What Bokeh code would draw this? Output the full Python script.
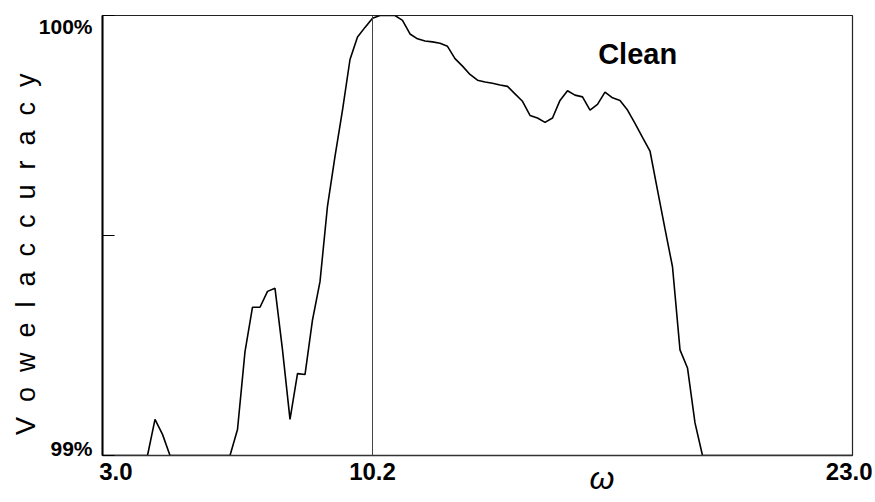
from bokeh.plotting import figure
from bokeh.models import Range1d, FixedTicker, Span, Label
from bokeh.embed import file_html
from bokeh.resources import INLINE

# ---- data ----
omega = [3.0, 4.2, 4.4, 4.6, 4.8, 6.4, 6.6, 6.8, 7.0, 7.2, 7.4, 7.6, 7.8, 8.0,
         8.2, 8.4, 8.6, 8.8, 9.0, 9.2, 9.4, 9.6, 9.8, 10.0, 10.2, 10.4, 10.6,
         10.8, 11.0, 11.2, 11.4, 11.6, 11.8, 12.0, 12.2, 12.4, 12.6, 12.8, 13.0,
         13.2, 13.4, 13.6, 13.8, 14.0, 14.2, 14.4, 14.6, 14.8, 15.0, 15.2, 15.4,
         15.6, 15.8, 16.0, 16.2, 16.4, 16.6, 16.8, 17.0, 17.2, 17.4, 17.6, 17.8,
         18.0, 18.2, 18.4, 18.6, 18.8, 19.0, 23.0]
accuracy = [99.0, 99.0, 99.082, 99.048, 99.0, 99.0, 99.059, 99.236, 99.337,
            99.337, 99.373, 99.380, 99.240, 99.082, 99.186, 99.184, 99.308,
            99.395, 99.567, 99.680, 99.785, 99.900, 99.951, 99.973, 99.994,
            100.0, 100.0, 100.0, 99.989, 99.958, 99.947, 99.942, 99.940, 99.937,
            99.930, 99.902, 99.885, 99.866, 99.853, 99.849, 99.846, 99.842,
            99.839, 99.822, 99.805, 99.773, 99.767, 99.757, 99.767, 99.807,
            99.829, 99.819, 99.815, 99.785, 99.798, 99.826, 99.813, 99.807,
            99.785, 99.755, 99.723, 99.692, 99.603, 99.515, 99.429, 99.240,
            99.199, 99.074, 99.0, 99.0]

x_ticks = [3.0, 10.2, 23.0]
x_tick_labels = ["3.0", "10.2", "23.0"]
y_ticks = [99.0, 99.5, 100.0]
y_tick_labels = ["99%", "", "100%"]
marker_omega = 10.2
condition = "Clean"
x_title = "ω"
y_title = "Vowel accuracy"

NB = "\u00a0"

p = figure(width=872, height=498, output_backend="svg", toolbar_location=None,
           x_range=Range1d(3.0, 23.0), y_range=Range1d(99.0, 100.0),
           min_border_left=102, min_border_top=15, min_border_right=20,
           min_border_bottom=42)
p.background_fill_color = "white"
p.border_fill_color = "white"
p.outline_line_color = "#222222"
p.outline_line_width = 1.2
p.xgrid.visible = False
p.ygrid.visible = False

# x axis
p.xaxis.ticker = FixedTicker(ticks=x_ticks)
ov = {}
for t, lab in zip(x_ticks, x_tick_labels):
    if t == x_ticks[0]:
        lab = NB * 4 + lab
    ov[t] = lab
p.xaxis.major_label_overrides = ov
p.xaxis.major_tick_in = 0
p.xaxis.major_tick_out = 0
p.xaxis.minor_tick_in = 0
p.xaxis.minor_tick_out = 0
p.xaxis.axis_line_color = "#333333"
p.xaxis.axis_line_width = 1.5
p.xaxis.major_label_text_font = "Liberation Sans"
p.xaxis.major_label_text_font_style = "bold"
p.xaxis.major_label_text_font_size = "24px"
p.xaxis.major_label_text_color = "black"
p.xaxis.major_label_standoff = 2
p.xaxis.axis_label = NB * 28 + x_title
p.xaxis.axis_label_text_font = "Liberation Sans"
p.xaxis.axis_label_text_font_style = "italic"
p.xaxis.axis_label_text_font_size = "32px"
p.xaxis.axis_label_text_color = "black"
p.xaxis.axis_label_standoff = -28

# y axis
p.yaxis.ticker = FixedTicker(ticks=y_ticks)
yov = {}
for t, lab in zip(y_ticks, y_tick_labels):
    if t == y_ticks[-1]:
        lab = NB + "\n" + lab
    elif t == y_ticks[0]:
        lab = lab + "\n" + NB
    yov[t] = lab
p.yaxis.major_label_overrides = yov
p.yaxis.major_tick_in = 12
p.yaxis.major_tick_out = 0
p.yaxis.major_tick_line_color = "black"
p.yaxis.minor_tick_in = 0
p.yaxis.minor_tick_out = 0
p.yaxis.axis_line_color = "black"
p.yaxis.axis_line_width = 2
p.yaxis.major_label_text_font = "Liberation Sans"
p.yaxis.major_label_text_font_style = "bold"
p.yaxis.major_label_text_font_size = "21px"
p.yaxis.major_label_text_line_height = 0.62
p.yaxis.major_label_text_color = "black"
p.yaxis.major_label_standoff = 10

words = y_title.split(" ")
spaced = (NB * 2).join((NB * 2).join(list(w)) for w in words)
p.yaxis.axis_label = spaced + NB * 5
p.yaxis.axis_label_text_font = "Liberation Sans"
p.yaxis.axis_label_text_font_style = "normal"
p.yaxis.axis_label_text_font_size = "27px"
p.yaxis.axis_label_text_color = "black"
p.yaxis.axis_label_standoff = -5

# vertical marker line
p.add_layout(Span(location=marker_omega, dimension="height",
                  line_color="#444444", line_width=1))

# curve
p.line(omega, accuracy, line_color="black", line_width=1.6)

# condition label
p.add_layout(Label(x=17.27, y=99.913, text=condition, text_align="center",
                   text_baseline="middle", text_font="Liberation Sans",
                   text_font_style="bold", text_font_size="29px",
                   text_color="black"))

open("out.html", "w").write(file_html(p, INLINE))
